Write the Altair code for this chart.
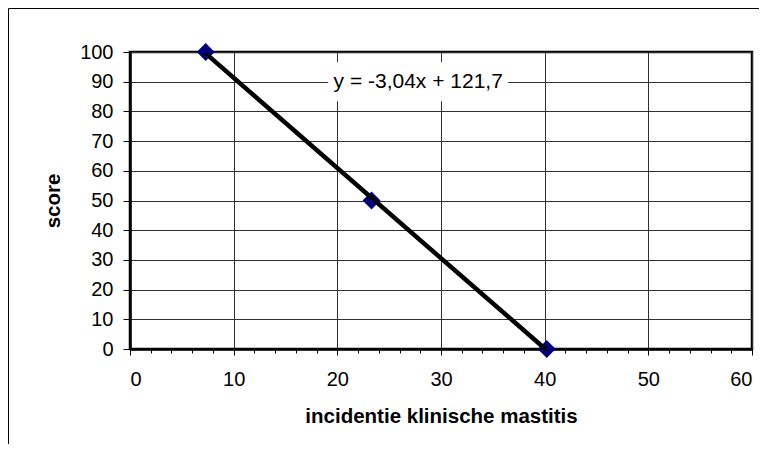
import altair as alt
import pandas as pd

# data
incidence = [7.3, 23.3, 40.2]
score = [100, 50, 0]
x_tick_values = list(range(0, 61, 2))
y_tick_values = list(range(0, 101, 10))
trend_label = "y = -3,04x + 121,7"
label_pos_x = [27.8]
label_pos_y = [90]

df = pd.DataFrame({"x": incidence, "y": score})
lab = pd.DataFrame({"x": label_pos_x, "y": label_pos_y, "t": [trend_label]})

FONT = "Liberation Sans"

xscale = alt.Scale(domain=[0, 60], nice=False, zero=False)
yscale = alt.Scale(domain=[0, 100], nice=False)

x_axis = alt.Axis(
    title="incidentie klinische mastitis",
    values=x_tick_values,
    labelExpr="datum.value % 10 === 0 ? datum.label : ''",
    tickSize={"condition": {"test": "datum.value % 10 === 0", "value": 6}, "value": 4},
    gridOpacity={"condition": {"test": "datum.value % 10 === 0", "value": 1}, "value": 0},
    grid=True,
    labelPadding=14,
    titlePadding=17,
    labelOverlap=False,
)
y_axis = alt.Axis(
    title="score",
    values=y_tick_values,
    tickSize=7,
    labelPadding=10,
    titlePadding=16,
    grid=True,
    labelOverlap=False,
)

X = alt.X("x:Q", scale=xscale, axis=x_axis)
Y = alt.Y("y:Q", scale=yscale, axis=y_axis)

border = alt.Chart(pd.DataFrame({"a": [0]})).mark_rect(
    fill=None, stroke="#000000", strokeWidth=1
).encode(
    x=alt.value(-121.5), x2=alt.value(900), y=alt.value(-43.5), y2=alt.value(700)
)

points = alt.Chart(df).mark_point(
    shape="diamond", filled=True, color="#000080", size=320, opacity=1
).encode(x=X, y=Y)

trend = alt.Chart(df).transform_regression("x", "y").mark_line(
    color="#000000", strokeWidth=4.5
).encode(x=X, y=Y)

box = alt.Chart(lab).mark_rect(
    fill="white", xOffset=-90, x2Offset=90, yOffset=-19.5, y2Offset=19.5
).encode(x=X, x2="x:Q", y=Y, y2="y:Q")

text = alt.Chart(lab).mark_text(
    font=FONT, fontSize=21, color="#000000", align="center", baseline="middle"
).encode(x=X, y=Y, text="t:N")

chart = alt.layer(border, points, trend, box, text).properties(
    width=622, height=297,
    autosize=alt.AutoSizeParams(type="none"),
    padding={"left": 122, "top": 44, "right": 7, "bottom": 95},
    background="white",
).configure_view(
    stroke="#000000", strokeWidth=2.5
).configure_axis(
    labelFont=FONT, labelFontSize=20, labelColor="#000000",
    titleFont=FONT, titleFontSize=20.5, titleFontWeight="bold", titleColor="#000000",
    gridColor="#303030", gridWidth=1,
    tickColor="#000000", tickWidth=1,
    domainColor="#000000", domainWidth=2.5,
)

chart.save("out.html", embed_options={"renderer": "svg", "actions": False})
